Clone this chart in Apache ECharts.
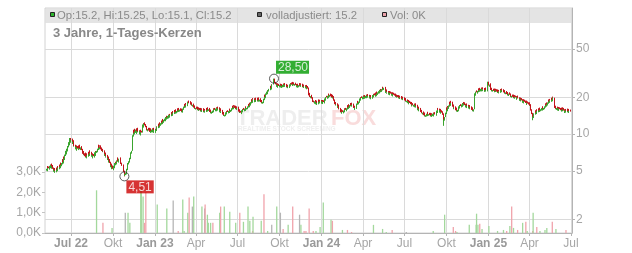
<!DOCTYPE html>
<html><head><meta charset="utf-8">
<script src="https://cdn.jsdelivr.net/npm/echarts@6/dist/echarts.min.js"></script>
<style>html,body{margin:0;padding:0;background:#fff}#c{width:632px;height:253px}</style>
</head><body><div id="c"></div>
<script>
// ---------- DATA ----------
const startDate = '2022-05-09'; // first trading day, one entry per weekday
const closes = [
5.2,5.35,5.1,5.3,5.25, 5.5,5.4,5.6,5.35,5.45, 5.2,5.05,5.15,4.95,5.0, 5.2,5.1,5.35,5.25,5.3,
5.5,5.4,5.7,5.6,5.8, 6.1,5.9,6.4,6.3,6.8, 7.3,7.0,7.6,7.4,8.0, 8.6,8.3,9.3,8.7,9.0,
8.5,8.7,8.1,8.3,8.0, 7.7,7.9,7.5,7.8,7.6, 7.9,7.7,8.0,7.6,7.8, 7.4,7.2,6.9,7.1,6.8,
6.6,6.9,6.5,6.8,6.7, 7.0,6.8,7.2,6.9,7.0, 6.7,6.8,6.5,6.7,6.6, 6.9,7.1,6.8,7.2,7.3,
7.6,8.0,7.7,7.9,7.9, 7.5,7.6,7.3,7.4,7.2, 7.0,6.8,6.9,6.6,6.6, 6.3,6.4,6.0,6.1,5.8,
5.5,5.6,5.3,5.4,5.2, 5.5,5.4,5.8,5.7,5.8, 6.1,6.3,6.0,6.2,6.3, 5.9,6.0,5.7,5.6,5.5,
5.1,4.9,4.51,4.7,4.8, 4.9,5.2,5.4,5.8,6.0, 6.4,6.8,6.6,7.1,7.3, 9.8,10.6,10.2,10.8,10.5,
10.9,10.3,10.6,11.0,10.5, 10.2,10.6,10.0,10.4,10.3, 11.5,12.0,11.6,12.2,11.8, 11.4,11.0,11.3,10.8,11.0,
10.7,11.0,10.5,10.9,10.6, 10.9,10.6,11.0,10.5,10.8, 10.5,10.9,11.3,11.0,11.5, 11.9,11.6,12.2,12.0,12.3,
12.6,12.4,13.0,12.7,13.1, 13.4,13.1,13.8,13.5,13.7, 14.1,13.8,14.3,14.0,14.4, 14.8,14.5,15.1,14.7,15.0,
15.4,15.1,15.6,15.2,15.5, 15.9,15.6,16.0,15.7,15.9, 15.5,15.8,15.4,15.9,16.2, 16.8,17.3,16.9,17.6,17.4,
18.0,17.7,18.4,18.1,17.9, 18.2,17.6,17.8,17.2,17.4, 16.9,16.5,16.8,16.3,16.4, 16.1,16.4,15.9,16.2,16.0,
15.7,16.0,15.6,15.9,15.8, 15.5,15.9,15.4,15.7,15.6, 16.0,15.7,16.2,15.9,16.0, 15.6,15.2,15.5,15.1,15.3,
15.6,15.9,15.5,16.0,15.8, 16.2,15.8,16.4,16.0,16.2, 15.8,15.5,15.9,15.3,15.4, 14.9,14.5,14.8,14.3,14.4,
14.8,15.1,14.9,15.3,15.2, 15.5,15.3,15.8,15.6,15.8, 16.3,16.7,16.4,16.9,16.8, 16.4,16.7,16.2,16.5,16.4,
15.8,15.3,15.6,15.1,15.0, 15.4,15.7,15.5,16.0,15.8, 16.2,15.9,16.5,16.3,16.4, 16.9,17.3,17.0,17.7,17.6,
18.3,18.9,18.5,19.3,19.2, 18.7,19.2,18.8,19.4,19.0, 19.4,18.9,19.5,19.0,19.2, 18.7,18.3,18.6,18.2,18.4,
19.5,20.6,20.2,21.4,21.5, 22.3,21.8,22.9,23.2,23.5, 24.3,23.8,25.0,24.6,25.5, 27.3,28.5,27.0,26.2,25.6,
25.0,25.5,24.6,25.2,24.8, 25.3,24.7,25.1,24.5,24.8, 25.4,24.9,25.6,25.0,25.2, 24.7,25.1,24.4,24.8,24.5,
25.0,25.6,25.2,25.9,25.4, 26.2,25.7,26.0,25.5,25.8, 25.2,24.8,25.3,24.6,24.8, 25.2,25.6,25.0,25.5,25.3,
24.8,25.1,24.5,24.9,24.6, 24.3,24.7,23.9,24.2,23.6, 22.0,20.8,21.3,20.2,20.5, 19.6,18.8,19.2,18.4,18.2,
18.6,18.0,18.4,17.8,18.0, 18.4,18.8,18.3,18.7,18.6, 18.2,18.6,18.1,18.5,18.3, 19.0,19.6,19.3,20.1,20.0,
20.6,20.2,21.0,20.7,21.0, 20.4,20.8,20.1,20.5,20.0, 18.8,18.1,17.6,17.9,17.5, 16.8,17.1,16.4,16.6,16.0,
15.5,15.1,15.6,15.3,15.2, 15.6,15.9,15.5,16.0,15.8, 16.3,16.9,16.5,17.2,16.8, 17.3,17.6,17.2,17.7,17.4,
16.9,16.4,16.7,16.2,16.5, 17.2,17.8,18.3,18.0,18.5, 19.2,19.6,19.3,19.9,19.8, 20.3,19.9,20.4,20.0,20.2,
20.6,20.2,20.8,20.4,20.5, 20.1,20.4,19.8,20.2,20.0, 20.4,20.9,20.5,21.1,20.8, 21.4,21.0,21.8,21.5,22.0,
22.5,22.1,22.9,22.6,22.8, 23.4,24.4,23.6,23.9,24.0, 23.0,22.3,22.7,22.0,22.0, 21.6,22.0,21.4,21.8,21.5,
21.2,21.5,20.9,21.3,21.0, 20.7,21.0,20.4,20.6,20.4, 20.1,20.4,19.9,20.2,20.0, 19.7,20.0,19.5,19.8,19.6,
19.2,18.9,19.3,18.7,18.8, 18.4,18.6,18.0,18.3,18.0, 17.6,17.9,17.3,17.5,17.2, 17.4,17.0,17.5,16.9,17.0,
16.5,16.1,16.4,15.8,16.0, 15.5,15.2,15.4,14.9,15.0, 14.6,14.3,14.7,14.2,14.3, 14.7,14.4,14.9,14.5,14.6,
14.3,14.6,14.2,14.5,14.4, 14.7,14.3,14.8,14.6,14.5, 15.1,15.6,15.3,16.0,15.8, 15.4,15.7,15.1,15.3,15.0,
14.4,13.5,12.0,13.2,13.8, 15.0,16.2,15.8,16.6,16.5, 17.2,18.0,17.5,18.3,18.0, 17.3,16.8,17.1,16.4,16.5,
16.0,15.7,16.1,15.6,15.8, 16.3,16.9,16.6,17.2,17.0, 17.5,17.2,17.9,17.6,17.8, 17.3,17.0,17.4,16.8,17.0,
16.6,16.9,16.4,16.7,16.5, 16.1,15.8,16.2,15.7,16.0, 19.8,21.6,21.2,22.3,22.0, 22.6,23.2,22.8,23.4,23.0,
23.5,23.0,23.6,23.1,23.2, 22.8,23.3,22.9,23.5,23.0, 24.0,26.9,25.6,25.0,25.5, 23.6,23.0,23.4,22.9,23.0,
22.6,23.1,22.7,23.0,22.8, 22.3,22.7,22.1,22.5,22.4, 22.9,22.5,23.1,22.6,22.8, 22.3,22.0,22.4,21.8,22.0,
21.7,21.3,21.6,21.1,21.5, 21.0,20.6,20.9,20.4,20.6, 20.2,20.6,20.0,20.4,20.2, 20.0,19.6,20.2,19.8,19.6,
19.2,19.5,19.0,19.3,18.9, 18.5,18.9,18.3,18.7,18.4, 18.0,18.4,17.8,18.1,17.8, 17.5,17.8,17.2,16.4,15.6,
14.6,13.4,13.9,14.5,14.8, 15.3,15.0,15.6,15.2,15.5, 15.9,15.6,16.1,15.8,16.0, 16.4,16.0,16.5,16.2,16.4,
16.9,17.5,17.2,17.8,17.6, 18.2,18.8,18.5,19.0,18.9, 19.4,19.1,19.8,20.1,19.9, 17.2,16.4,16.7,16.2,16.4,
16.0,16.3,15.9,16.2,16.0, 15.7,16.1,15.8,16.2,16.0, 15.6,15.3,15.7,15.4,15.5, 15.8,15.4,15.7,15.3,15.5,
15.3,15.2
];
const opens = [
5.02,5.07,5.48,4.97,5.43, 5.12,5.64,5.26,5.74,5.21, 5.59,5.33,4.92,5.28,4.82, 4.87,5.33,4.97,5.48,5.12,
5.16,5.64,5.26,5.85,5.46, 5.65,6.25,5.75,6.56,6.14, 6.62,7.48,6.82,7.79,7.22, 7.8,8.82,8.1,9.3,8.5,
9.2,8.3,8.92,7.9,8.5, 8.19,7.51,8.09,7.31,7.99, 7.41,8.09,7.51,8.2,7.41, 7.98,7.58,7.38,6.72,7.28,
6.97,6.43,7.07,6.33,6.97, 6.53,7.17,6.63,7.38,6.73, 7.17,6.53,6.97,6.33,6.87, 6.43,6.72,7.28,6.63,7.02,
7.11,7.41,8.2,7.51,8.1, 8.1,7.31,7.79,7.12,7.58, 7.37,7.17,6.63,7.07,6.43, 6.76,6.14,6.56,5.85,6.25,
5.94,5.36,5.74,5.16,5.54, 5.07,5.64,5.26,5.94,5.56, 5.65,5.95,6.45,5.85,6.05, 6.45,5.75,6.15,5.84,5.74,
5.64,5.23,5.02,4.55,4.62, 4.68,4.78,5.07,5.26,5.65, 5.85,6.24,6.97,6.43,6.92, 7.3,9.55,10.87,9.95,11.07,
10.24,11.17,10.04,10.33,11.28, 10.76,9.95,10.87,9.75,10.66, 10.3,11.21,12.3,11.31,12.5, 12.1,11.68,10.72,11.58,10.53,
11.27,10.43,11.27,10.24,11.17, 10.34,11.17,10.34,11.27,10.24, 11.07,10.24,10.63,11.58,10.73, 11.2,12.2,11.3,12.5,11.7,
11.98,12.92,12.08,13.32,12.38, 12.76,13.74,12.76,14.14,13.16, 13.35,14.45,13.45,14.65,13.65, 14.03,15.17,14.13,15.47,14.33,
14.62,15.78,14.72,15.98,14.82, 15.1,16.3,15.2,16.4,15.3, 16.3,15.1,16.2,15.0,15.5, 15.8,16.4,17.7,16.5,18.0,
16.95,18.45,17.25,18.85,18.55, 17.45,18.65,17.15,18.25,16.8, 17.8,17.3,16.1,17.2,15.9, 16.8,15.7,16.8,15.5,16.6,
16.4,15.3,16.4,15.2,16.3, 16.2,15.1,16.3,15.0,16.1, 15.2,16.4,15.3,16.6,15.5, 16.4,16.0,14.8,15.9,14.7,
14.9,15.2,16.3,15.1,16.4, 15.4,16.6,15.4,16.8,15.6, 16.6,16.2,15.1,16.3,14.9, 15.8,15.3,14.1,15.2,13.95,
14.05,14.45,15.5,14.5,15.7, 14.8,15.9,14.9,16.2,15.2, 15.4,15.9,17.1,16.0,17.3, 17.2,16.0,17.1,15.8,16.9,
16.8,16.2,14.9,16.0,15.5, 14.6,15.0,16.1,15.1,16.4, 15.4,16.6,15.5,16.9,15.9, 16.0,16.5,17.7,16.6,18.1,
17.15,17.85,19.35,18.05,19.75, 19.7,18.25,19.7,18.35,19.9, 18.5,19.9,18.45,20.0,18.5, 19.7,19.2,17.85,19.05,17.75,
17.95,19.0,21.1,19.7,20.9, 21.0,22.85,21.25,22.35,22.65, 22.9,24.9,23.2,25.6,24.0, 25.5,26.7,28.5,27.6,26.8,
26.2,24.4,26.1,24.0,25.8, 24.2,25.9,24.1,25.7,23.9, 24.2,26.0,24.3,26.2,24.4, 25.8,24.1,25.7,23.8,25.4,
23.9,24.4,26.2,24.6,26.5, 24.8,26.8,25.1,26.6,24.9, 26.4,25.8,24.2,25.9,24.0, 24.2,24.6,26.2,24.4,26.1,
25.9,24.2,25.7,23.9,25.5, 25.2,23.7,25.3,23.3,24.8, 24.1,22.5,20.3,21.8,19.7, 21.0,20.1,18.35,19.7,18.85,
17.75,19.05,17.55,18.85,17.35, 17.55,17.95,19.25,17.85,19.15, 19.05,17.75,19.05,17.65,18.95, 17.85,18.5,20.1,18.8,20.6,
19.5,21.1,19.7,21.5,20.2, 21.5,19.9,21.3,19.6,21.0, 20.5,19.25,18.55,17.15,18.35, 17.9,16.4,17.5,16.0,17.0,
16.4,15.9,14.7,16.0,15.7, 14.8,15.2,16.3,15.1,16.4, 15.4,15.9,17.3,16.1,17.6, 16.4,16.9,18.0,16.8,18.1,
17.8,17.3,16.0,17.1,15.8, 16.1,16.8,17.4,18.75,17.55, 18.05,18.7,20.1,18.8,20.4, 19.3,20.8,19.4,20.9,19.5,
19.7,21.1,19.7,21.3,19.9, 21.0,19.6,20.9,19.3,20.7, 19.5,19.9,21.4,20.0,21.6, 20.25,21.95,20.45,22.35,20.95,
21.45,23.05,21.55,23.45,22.05, 22.2,22.8,24.4,23.0,23.3, 24.4,23.55,21.75,23.25,21.45, 22.55,21.05,22.55,20.85,22.35,
22.05,20.65,22.05,20.35,21.85, 21.5,20.2,21.5,19.9,21.1, 20.9,19.6,20.9,19.4,20.7, 20.5,19.2,20.5,19.0,20.3,
20.05,19.65,18.45,19.75,18.25, 19.25,17.95,19.05,17.55,18.75, 18.45,17.15,18.35,16.85,17.95, 16.8,17.8,16.6,17.9,16.5,
17.4,16.9,15.7,16.8,15.4, 16.4,15.9,14.8,15.8,14.5, 15.35,14.95,13.95,15.05,13.85, 13.95,15.05,14.05,15.25,14.15,
14.95,13.95,14.95,13.85,14.85, 14.05,15.05,13.95,15.15,14.95, 14.15,14.7,16.0,14.9,16.4, 16.2,15.0,16.1,14.7,15.7,
15.4,14.8,13.8,11.7,12.9, 13.8,14.6,16.6,15.4,17.0, 16.1,16.8,18.45,17.05,18.75, 18.45,17.7,16.4,17.5,16.0,
16.9,16.4,15.3,16.5,15.2, 15.4,15.9,17.3,16.2,17.6, 16.55,17.95,16.75,18.35,17.15, 18.25,17.75,16.55,17.85,16.35,
17.4,16.2,17.3,16.0,17.1, 16.9,16.5,15.4,16.6,15.3, 16.0,19.3,22.15,20.65,22.85, 21.45,22.05,23.75,22.25,23.95,
22.4,24.1,22.4,24.2,22.5, 23.8,22.2,23.9,22.3,24.1, 22.4,23.4,26.9,26.2,24.4, 26.1,24.2,22.4,24.0,22.3,
23.55,22.05,23.65,22.15,23.55, 23.35,21.75,23.25,21.55,23.05, 21.85,23.45,21.95,23.65,22.05, 23.35,22.85,21.45,22.95,21.25,
22.55,22.25,20.75,22.15,20.55, 22.0,21.5,20.1,21.4,19.9, 21.1,19.7,21.1,19.5,20.9, 20.7,20.5,19.1,20.7,20.3,
20.05,18.75,19.95,18.55,19.75, 19.35,18.05,19.35,17.85,19.15, 18.85,17.55,18.85,17.35,18.55, 18.25,17.05,18.25,17.6,16.8,
16.0,14.95,13.0,13.55,14.15, 14.45,15.7,14.6,16.0,14.8, 15.1,16.3,15.2,16.5,15.4, 15.6,16.8,15.6,16.9,15.8,
16.0,16.5,17.9,16.8,18.2, 17.15,17.75,19.25,18.05,19.45, 18.4,19.9,18.6,19.3,20.3, 19.9,17.6,16.0,17.1,15.8,
16.8,15.6,16.7,15.5,16.6, 16.4,15.3,16.5,15.4,16.6, 16.4,16.0,14.9,16.1,15.0, 15.1,16.2,15.0,16.1,14.9,
15.9,15.2
];
// sparse daily volume (shares); dir: u = up day, d = down day, n = unchanged
const volDates = ['2022-08-26','2022-09-09','2022-09-29','2022-10-28','2022-11-03','2022-11-07','2022-12-01','2022-12-02','2022-12-06','2022-12-09','2022-12-12',
'2023-01-06','2023-01-27','2023-02-10','2023-02-21','2023-03-03','2023-03-06','2023-03-14','2023-03-17','2023-03-24','2023-03-27','2023-04-14','2023-04-20','2023-04-21','2023-04-26','2023-04-28',
'2023-05-03','2023-05-08','2023-05-23','2023-05-25','2023-06-02','2023-06-14','2023-06-27','2023-07-06','2023-07-14','2023-07-24','2023-07-28','2023-08-03','2023-08-04','2023-08-22','2023-08-28',
'2023-09-05','2023-09-14','2023-09-25','2023-10-03','2023-10-09','2023-10-20','2023-10-30','2023-11-14','2023-11-17','2023-11-24','2023-11-28','2023-12-05','2023-12-14','2023-12-20','2023-12-29',
'2024-01-05','2024-01-22','2024-01-25','2024-02-16','2024-02-27','2024-03-07','2024-04-24','2024-05-14','2024-05-22','2024-06-04','2024-07-05','2024-09-02','2024-09-27','2024-10-16','2024-10-21','2024-10-24',
'2024-11-20','2024-12-05','2024-12-06','2024-12-09','2024-12-13','2024-12-18','2025-01-02','2025-01-21','2025-02-03','2025-02-10','2025-02-17','2025-02-21','2025-02-25','2025-03-06','2025-03-17','2025-03-24','2025-03-27',
'2025-04-08','2025-04-09','2025-04-17','2025-04-24','2025-05-05','2025-05-09','2025-05-21','2025-05-29','2025-06-20'];
const volValues = [2100,500,250,1000,1000,500,2300,2200,1800,500,2000,
1400,1200,1600,100,1650,100,1000,1750,1300,1800,1300,1200,1400,900,500,
500,500,1000,1300,1300,1050,500,1000,550,1300,600,100,800,600,1900,
100,400,1300,1000,200,400,1300,900,400,100,100,1200,100,100,300,
1500,650,600,150,150,50,400,200,50,150,50,100,900,300,100,50,
400,400,950,400,450,200,350,100,150,100,350,1300,250,150,500,550,100,
100,1000,300,100,150,250,550,200,150];
const volDirs = ['u','d','u','n','u','u','u','u','u','d','d',
'u','u','n','d','u','u','u','d','n','u','u','n','d','u','u',
'u','d','u','d','u','u','u','d','u','u','u','d','u','u','d',
'u','n','u','n','d','u','d','n','u','d','d','d','d','u','u',
'u','u','d','u','d','d','u','u','u','d','n','u','u','d','d','u',
'u','u','u','u','d','u','u','u','u','d','u','d','u','d','u','d','u',
'd','u','d','u','u','u','d','u','d'];
const tickDates = ['2022-07-01','2022-10-01','2023-01-01','2023-04-01','2023-07-01','2023-10-01','2024-01-01','2024-04-01','2024-07-01','2024-10-01','2025-01-01','2025-04-01','2025-07-01'];
const tickLabels = ['Jul 22','Okt','Jan 23','Apr','Jul','Okt','Jan 24','Apr','Jul','Okt','Jan 25','Apr','Jul'];
const priceTicks = [2, 5, 10, 20, 50];
const volTicks = [0, 1000, 2000, 3000];
const headerQuote = 'Op:15.2, Hi:15.25, Lo:15.1, Cl:15.2';
const headerAdj = 'volladjustiert: 15.2';
const headerVol = 'Vol: 0K';
const titleText = '3 Jahre, 1-Tages-Kerzen';

// ---------- BUILD ----------
const FONT = "'Liberation Sans', Arial, Helvetica, sans-serif";
const UP = '#3aa52e', DOWN = '#c4141b';
const VOLC = {u: '#a3d89c', d: '#f0a3ab', n: '#b5b5b5'};
const ts = s => Date.parse(s.length === 10 ? s + 'T00:00:00Z' : s.replace(' ', 'T') + ':00Z');

function tradingDays(start, n) {
  const out = []; const d = new Date(start + 'T00:00:00Z');
  while (out.length < n) {
    const wd = d.getUTCDay();
    if (wd !== 0 && wd !== 6) out.push(d.getTime());
    d.setUTCDate(d.getUTCDate() + 1);
  }
  return out;
}
const N = Math.min(closes.length, opens.length);
const days = tradingDays(startDate, N);
const candles = [];
let minI = 0, maxI = 0;
for (let i = 0; i < N; i++) {
  const o = opens[i], c = closes[i];
  candles.push([days[i], o, c, Math.min(o, c), Math.max(o, c)]);
  if (Math.min(o, c) < Math.min(opens[minI], closes[minI])) minI = i;
  if (Math.max(o, c) > Math.max(opens[maxI], closes[maxI])) maxI = i;
}
const lowVal = Math.min(opens[minI], closes[minI]);
const highVal = Math.max(opens[maxI], closes[maxI]);
const fmt = v => v.toFixed(2).replace('.', ',');

const tickTs = tickDates.map(ts);
const xMin = ts('2022-05-05'), xMax = ts('2025-07-03 05:00');

const chart = echarts.init(document.getElementById('c'), null, {renderer: 'canvas'});
chart.setOption({
  animation: false,
  textStyle: {fontFamily: FONT},
  grid: [
    {left: 45, right: 60, top: 8, bottom: 20, show: true, borderColor: '#d2d2d2', borderWidth: 1, backgroundColor: 'transparent'},
    {left: 45, right: 60, top: 172, bottom: 20}
  ],
  xAxis: [
    {type: 'value', gridIndex: 0, min: xMin, max: xMax, scale: true,
     axisLine: {show: true, onZero: false, lineStyle: {color: '#b4b4b4'}},
     axisTick: {show: true, customValues: tickTs, length: 3, lineStyle: {color: '#b4b4b4'}},
     axisLabel: {customValues: tickTs, margin: 5, fontSize: 12, color: '#a6a6a6', showMinLabel: true, showMaxLabel: true,
       formatter: function (v) {
         let best = 0; for (let i = 0; i < tickTs.length; i++) if (Math.abs(tickTs[i] - v) < Math.abs(tickTs[best] - v)) best = i;
         const s = tickLabels[best];
         return /\d/.test(s) ? '{b|' + s + '}' : '{n|' + s + '}';
       },
       rich: {b: {fontWeight: 'bold', color: '#9a9a9a', fontSize: 12, fontFamily: FONT}, n: {color: '#a6a6a6', fontSize: 12, fontFamily: FONT}}},
     splitLine: {show: true, lineStyle: {color: '#dadada', width: 1}}},
    {type: 'value', gridIndex: 1, min: xMin, max: xMax, scale: true, show: false}
  ],
  yAxis: [
    {type: 'log', gridIndex: 0, position: 'right', min: 1.55, max: 108, logBase: 10,
     axisLine: {show: true, lineStyle: {color: '#b4b4b4'}},
     axisTick: {show: true, customValues: priceTicks, length: 3, lineStyle: {color: '#b4b4b4'}},
     axisLabel: {customValues: priceTicks, color: '#a6a6a6', fontSize: 12, margin: 4},
     splitLine: {show: true, lineStyle: {color: '#dadada', width: 1}}},
    {type: 'value', gridIndex: 1, position: 'left', min: 0, max: 3000, interval: 1000,
     axisLine: {show: false},
     axisTick: {show: true, length: 3, lineStyle: {color: '#c4c4c4'}},
     axisLabel: {color: '#a6a6a6', fontSize: 12, margin: 4,
       formatter: v => (v / 1000).toFixed(1).replace('.', ',') + 'K'},
     splitLine: {show: false}}
  ],
  series: [
    {type: 'bar', xAxisIndex: 1, yAxisIndex: 1, barWidth: 1.3, z: 1,
     data: volDates.map((d, i) => ({value: [ts(d), volValues[i]], itemStyle: {color: VOLC[volDirs[i]]}}))},
    {type: 'candlestick', xAxisIndex: 0, yAxisIndex: 0, large: false, barWidth: 1,
     encode: {x: 0, y: [1, 2, 3, 4]},
     itemStyle: {color: UP, color0: DOWN, borderColor: UP, borderColor0: DOWN, borderWidth: 1},
     data: candles, z: 3},
    {type: 'scatter', xAxisIndex: 0, yAxisIndex: 0, symbol: 'circle', symbolSize: 9, z: 5,
     itemStyle: {color: 'rgba(0,0,0,0)', borderColor: '#333', borderWidth: 1},
     data: [
       {value: [days[minI], lowVal], label: {show: true, formatter: fmt(lowVal), position: [7, 9], align: 'left', verticalAlign: 'top',
         backgroundColor: '#cc0000', color: '#fff', fontSize: 12, padding: [1, 2, 0, 2], fontFamily: FONT}},
       {value: [days[maxI], highVal], label: {show: true, formatter: fmt(highVal), position: [7, -13], align: 'left', verticalAlign: 'top',
         backgroundColor: '#009a00', color: '#fff', fontSize: 12, padding: [1, 1, 0, 2], fontFamily: FONT}}
     ]}
  ],
  graphic: [
    {type: 'rect', z: -1, silent: true, shape: {x: 45.5, y: 8.5, width: 526, height: 14.5}, style: {fill: '#e4e4e4'}},
    {type: 'text', z: -1, silent: true, x: 236, y: 108, style: {text: 'TRADER', fontSize: 22, fontWeight: 'bold', fontFamily: FONT, fill: '#eeeeee'}},
    {type: 'text', z: -1, silent: true, x: 331, y: 108, style: {text: 'FOX', fontSize: 22, fontWeight: 'bold', fontFamily: FONT, fill: '#f9dcdc'}},
    {type: 'text', z: -1, silent: true, x: 238, y: 126, style: {text: 'REALTIME STOCK SCREENING', fontSize: 6.5, fontWeight: 'bold', fontFamily: FONT, fill: '#efefef'}},
    {type: 'rect', z: 10, silent: true, shape: {x: 50.5, y: 12.5, width: 4, height: 4}, style: {fill: '#2db52d', stroke: '#222', lineWidth: 1}},
    {type: 'text', z: 10, silent: true, x: 57, y: 15.5, style: {text: headerQuote, fontSize: 11.3, fontFamily: FONT, fill: '#8a8a8a', verticalAlign: 'middle'}},
    {type: 'rect', z: 10, silent: true, shape: {x: 257.5, y: 12.5, width: 4, height: 4}, style: {fill: '#666', stroke: '#222', lineWidth: 1}},
    {type: 'text', z: 10, silent: true, x: 266, y: 15.5, style: {text: headerAdj, fontSize: 11.3, fontFamily: FONT, fill: '#8a8a8a', verticalAlign: 'middle'}},
    {type: 'rect', z: 10, silent: true, shape: {x: 382.5, y: 12.5, width: 4, height: 4}, style: {fill: '#eaa2aa', stroke: '#222', lineWidth: 1}},
    {type: 'text', z: 10, silent: true, x: 390, y: 15.5, style: {text: headerVol, fontSize: 11.3, fontFamily: FONT, fill: '#8a8a8a', verticalAlign: 'middle'}},
    {type: 'text', z: 10, silent: true, x: 53, y: 33, style: {text: titleText, fontSize: 13, fontWeight: 'bold', fontFamily: FONT, fill: '#888', verticalAlign: 'middle'}}
  ]
});
</script>
</body></html>
